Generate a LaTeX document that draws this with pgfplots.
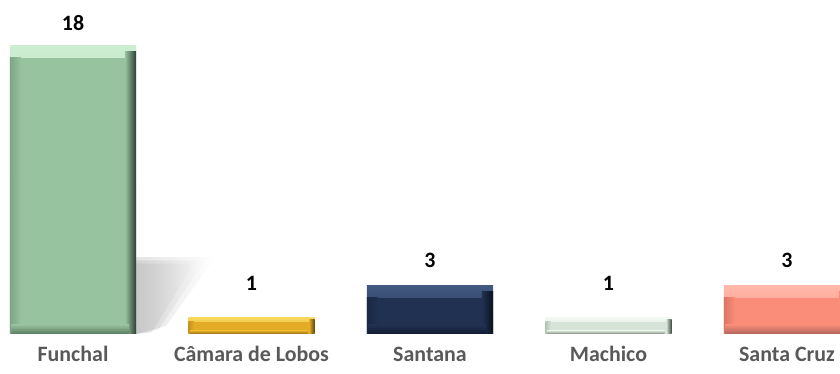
\documentclass[border=0pt]{standalone}
\usepackage{pgfplots}
\pgfplotsset{compat=1.18}
\usepackage{pgfplotstable}
\usepackage{fontspec}
\setmainfont{Carlito}
\usetikzlibrary{fadings}

% bar colours: face, top bevel, left bevel, right bevel, bottom bevel
\definecolor{funF}{HTML}{98C39F}\definecolor{funT}{HTML}{CDEDD0}\definecolor{funL}{HTML}{7EA684}\definecolor{funR}{HTML}{2E4033}\definecolor{funB}{HTML}{5A7A5F}
\definecolor{camF}{HTML}{E2AC26}\definecolor{camT}{HTML}{F8D65A}\definecolor{camL}{HTML}{C69220}\definecolor{camR}{HTML}{5E4710}\definecolor{camB}{HTML}{8E6A14}
\definecolor{sanF}{HTML}{203152}\definecolor{sanT}{HTML}{43587F}\definecolor{sanL}{HTML}{1A2844}\definecolor{sanR}{HTML}{0A1220}\definecolor{sanB}{HTML}{121D33}
\definecolor{macF}{HTML}{D6E4D7}\definecolor{macT}{HTML}{F2F8F2}\definecolor{macL}{HTML}{B5C4B6}\definecolor{macR}{HTML}{3E4B40}\definecolor{macB}{HTML}{7E8C80}
\definecolor{scrF}{HTML}{FA8D79}\definecolor{scrT}{HTML}{FFB8AA}\definecolor{scrL}{HTML}{DC7664}\definecolor{scrR}{HTML}{8C4A40}\definecolor{scrB}{HTML}{B0635A}
\definecolor{catgray}{HTML}{595959}

\pgfplotstableread{
x v off
0 18 15
1 1 27
2 3 18
3 1 27
4 3 18
}\counts

% one bevelled bar: #1 row x, #2 side bevel width, #3 side bevel shift,
% #4 face width, #5 top/bottom bevel height, #6 colour prefix
\newcommand{\bevelbar}[6]{%
  \addplot[ybar, bar width=0.706, bar shift=0, draw=none,
    top color=#6T, bottom color=#6F,
    restrict x to domain=#1:#1] table[x=x, y=v] {\counts};
  \addplot[ybar, bar width=#2, bar shift=-#3, draw=none,
    left color=#6L, right color=#6F,
    restrict x to domain=#1:#1] table[x=x, y expr=\thisrow{v}-#5] {\counts};
  \addplot[ybar, bar width=#2, bar shift=#3, draw=none,
    left color=#6F, right color=#6R,
    restrict x to domain=#1:#1] table[x=x, y expr=\thisrow{v}-0.5*#5] {\counts};
  \addplot[ybar, bar width=#4, bar shift=0, draw=none, fill=#6F,
    restrict x to domain=#1:#1] table[x=x, y expr=\thisrow{v}-#5] {\counts};
  \addplot[ybar, bar width=0.66, bar shift=-0.015, draw=none,
    top color=#6F, bottom color=#6B,
    restrict x to domain=#1:#1] table[x=x, y expr=0.8*#5] {\counts};
}

\begin{document}
\begin{tikzpicture}
\begin{axis}[
  scale only axis,
  width=840bp, height=374bp,
  xmin=-0.409, xmax=4.297,
  ymin=-2.5, ymax=20.875,
  axis line style={draw=none},
  major tick style={draw=none},
  ytick=\empty,
  xtick={0,1,2,3,4},
  xticklabels={Funchal, Câmara de Lobos, Santana, Machico, Santa Cruz},
  xticklabel style={anchor=base, yshift=13bp, text=catgray,
    font=\bfseries\fontsize{22}{26}\selectfont},
  /pgf/number format/assume math mode=true,
]
% soft shadow behind the tallest bar
\addplot[draw=none, fill=black!30, fill opacity=0.35, path fading=east, forget plot]
  coordinates {(0.353,0) (0.353,4.8) (0.80,4.8) (0.52,0.5) (0.353,0)};
\addplot[draw=none, fill=black!30, fill opacity=0.35, path fading=east, forget plot]
  coordinates {(0.353,0) (0.353,4.6) (0.74,4.6) (0.48,0.3) (0.353,0)};
\addplot[draw=none, fill=black!30, fill opacity=0.35, path fading=east, forget plot]
  coordinates {(0.353,0) (0.353,4.4) (0.68,4.4) (0.44,0.1) (0.353,0)};

\bevelbar{0}{0.062}{0.322}{0.582}{0.75}{fun}
\bevelbar{1}{0.030}{0.338}{0.646}{0.25}{cam}
\bevelbar{2}{0.062}{0.322}{0.582}{0.75}{san}
\bevelbar{3}{0.030}{0.338}{0.646}{0.25}{mac}
\bevelbar{4}{0.062}{0.322}{0.582}{0.75}{scr}

% value labels
\addplot[ybar, bar width=0.706, bar shift=0, draw=none, fill=none,
  nodes near coords,
  visualization depends on={\thisrow{off}\as\off},
  every node near coord/.append style={anchor=base, yshift=\off bp,
    text=black, font=\bfseries\fontsize{22}{26}\selectfont}]
  table[x=x, y=v] {\counts};
\end{axis}
\pgfresetboundingbox
\path (current axis.south west) rectangle (current axis.north east);
\end{tikzpicture}
\end{document}
